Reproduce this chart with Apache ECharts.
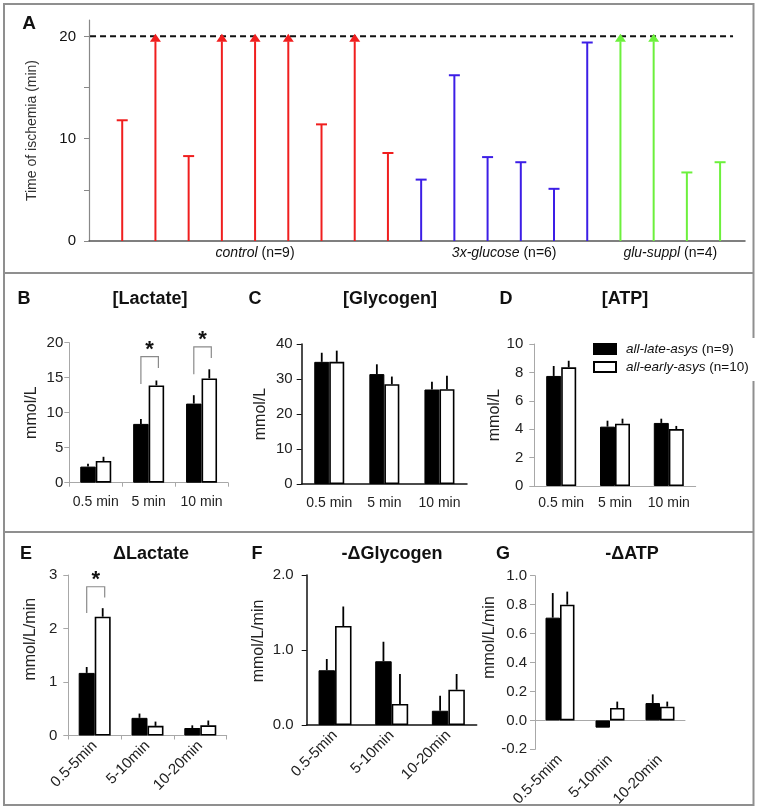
<!DOCTYPE html>
<html>
<head>
<meta charset="utf-8">
<script src="https://cdn.jsdelivr.net/npm/echarts@6.0.0/dist/echarts.min.js"></script>
<style>
html,body{margin:0;padding:0;background:#ffffff;}
#chart{width:759px;height:809px;}
</style>
</head>
<body>
<div id="chart"></div>
<script>
// ---------- Panel A: time of ischemia (min) for each heart ----------
const controlValues  = [11.8, 20, 8.3, 20, 20, 20, 11.4, 20, 8.6];
const controlReached = [0, 1, 0, 1, 1, 1, 0, 1, 0];
const glucoseValues  = [6.0, 16.2, 8.2, 7.7, 5.1, 19.4];
const glucoseReached = [0, 0, 0, 0, 0, 0];
const supplValues    = [20, 20, 6.7, 7.7];
const supplReached   = [1, 1, 0, 0];
const groupItalic    = ['control', '3x-glucose', 'glu-suppl'];
const groupCount     = [' (n=9)', ' (n=6)', ' (n=4)'];
const ischemiaLimit  = 20;
const ischemiaLabels = [0, 10, 20];

// ---------- Panels B-D (concentrations) ----------
const timeCats = ['0.5 min', '5 min', '10 min'];
const lactateLate      = [2.3, 8.4, 11.3];
const lactateLateSem   = [0.4, 0.7, 1.2];
const lactateEarly     = [3.1, 13.9, 14.9];
const lactateEarlySem  = [0.6, 0.7, 1.3];
const lactateSigCat    = [1, 2];
const lactateSigTop    = [18.0, 19.4];
const lactateSigLeft   = [14.1, 15.5];
const lactateSigRight  = [16.4, 17.8];

const glycogenLate     = [34.9, 31.4, 27.0];
const glycogenLateSem  = [2.6, 2.8, 2.2];
const glycogenEarly    = [34.9, 28.5, 27.1];
const glycogenEarlySem = [3.2, 2.2, 3.8];

const atpLate          = [7.75, 4.18, 4.44];
const atpLateSem       = [0.70, 0.42, 0.30];
const atpEarly         = [8.36, 4.39, 4.01];
const atpEarlySem      = [0.46, 0.35, 0.22];

// ---------- Panels E-G (rates) ----------
const rateCats  = ['0.5-5min', '5-10min', '10-20min'];
const rateCatsG = ['0.5-5mim', '5-10min', '10-20min'];
const dLactateLate      = [1.17, 0.33, 0.14];
const dLactateLateSem   = [0.11, 0.08, 0.05];
const dLactateEarly     = [2.22, 0.18, 0.19];
const dLactateEarlySem  = [0.16, 0.08, 0.09];
const dLactateSigCat    = [0];
const dLactateSigTop    = [2.78];
const dLactateSigLeft   = [2.29];
const dLactateSigRight  = [2.58];

const dGlycogenLate     = [0.73, 0.85, 0.19];
const dGlycogenLateSem  = [0.15, 0.26, 0.20];
const dGlycogenEarly    = [1.32, 0.28, 0.47];
const dGlycogenEarlySem = [0.26, 0.40, 0.21];

const dAtpLate          = [0.71, -0.05, 0.12];
const dAtpLateSem       = [0.17, 0, 0.06];
const dAtpEarly         = [0.80, 0.086, 0.095];
const dAtpEarlySem      = [0.09, 0.044, 0.035];

const nameLate  = 'all-late-asys (n=9)';
const nameEarly = 'all-early-asys (n=10)';

// ---------------------------------------------------------------
const FONT = '"Liberation Sans", Arial, Helvetica, sans-serif';
const chart = echarts.init(document.getElementById('chart'), null, {renderer: 'canvas', width: 759, height: 809});

const option = {
  animation: false,
  backgroundColor: '#ffffff',
  textStyle: {fontFamily: FONT},
  grid: [], xAxis: [], yAxis: [], series: [], graphic: []
};

// ----- Panel A -----
const stemColors = ['#f01e1e', '#3c1ee6', '#6cf03c'];
const stems = [];
let pos = 1;
const groupCenters = [];
[[controlValues, controlReached], [glucoseValues, glucoseReached], [supplValues, supplReached]].forEach((g, gi) => {
  const start = pos;
  g[0].forEach((v, i) => { stems.push([pos, v, g[1][i], gi]); pos++; });
  groupCenters.push([(start + pos - 1) / 2, 0, gi]);
});

option.grid.push({left: 89, top: 20, width: 656, height: 221, containLabel: false});
option.xAxis.push({
  gridIndex: 0, type: 'value', min: 0, max: 19.75,
  axisLine: {show: true, onZero: false, lineStyle: {color: '#555', width: 1.5}},
  axisTick: {show: false}, axisLabel: {show: false}, splitLine: {show: false}
});
option.yAxis.push({
  gridIndex: 0, type: 'value', min: 0, max: 21.6,
  axisLine: {show: true, lineStyle: {color: '#888', width: 1.2}},
  axisTick: {show: true, length: 5, customValues: [0, 5, 10, 15, 20], lineStyle: {color: '#888'}},
  axisLabel: {customValues: ischemiaLabels, fontSize: 15, color: '#111', margin: 13},
  splitLine: {show: false},
  name: 'Time of ischemia (min)', nameLocation: 'middle', nameRotate: 90, nameGap: 50,
  nameTextStyle: {fontSize: 14, color: '#333'}
});
option.series.push({
  type: 'line', xAxisIndex: 0, yAxisIndex: 0, clip: false, silent: true,
  data: [[-0.27, ischemiaLimit], [19.39, ischemiaLimit]],
  showSymbol: false, symbol: 'none',
  lineStyle: {color: '#111', width: 2, type: [6, 4]}, z: 2
});
option.series.push({
  type: 'custom', xAxisIndex: 0, yAxisIndex: 0, data: stems, z: 3,
  renderItem: function (params, api) {
    const x = api.value(0), v = api.value(1), reached = api.value(2), g = api.value(3);
    const b = api.coord([x, 0]), t = api.coord([x, v]);
    const col = stemColors[g];
    const ch = [];
    if (reached) {
      ch.push({type: 'line', shape: {x1: b[0], y1: b[1], x2: t[0], y2: t[1] + 5}, style: {stroke: col, lineWidth: 2}});
      ch.push({type: 'polygon', shape: {points: [[t[0], t[1] - 2.5], [t[0] - 5.5, t[1] + 5.5], [t[0] + 5.5, t[1] + 5.5]]}, style: {fill: col}});
    } else {
      ch.push({type: 'line', shape: {x1: b[0], y1: b[1], x2: t[0], y2: t[1]}, style: {stroke: col, lineWidth: 2}});
      ch.push({type: 'line', shape: {x1: t[0] - 5.5, y1: t[1], x2: t[0] + 5.5, y2: t[1]}, style: {stroke: col, lineWidth: 2}});
    }
    return {type: 'group', children: ch};
  }
});
option.series.push({
  type: 'custom', xAxisIndex: 0, yAxisIndex: 0, data: groupCenters, clip: false, silent: true,
  renderItem: function (params, api) {
    const p = api.coord([api.value(0), api.value(1)]);
    const gi = api.value(2);
    return {
      type: 'text', x: p[0], y: p[1] + 12,
      style: {
        text: '{i|' + groupItalic[gi] + '}{n|' + groupCount[gi] + '}',
        align: 'center', verticalAlign: 'middle', fill: '#111',
        rich: {
          i: {fontStyle: 'italic', fontSize: 14, fontFamily: FONT, fill: '#111'},
          n: {fontSize: 14, fontFamily: FONT, fill: '#111'}
        }
      }
    };
  }
});

// ----- Bar panels -----
function addBarPanel(P) {
  const gi = option.grid.length;
  option.grid.push({left: P.x0, top: P.yTop, width: P.x1 - P.x0, height: P.yBot - P.yTop, containLabel: false});
  option.xAxis.push({
    gridIndex: gi, type: 'category', data: P.cats,
    axisLine: {show: true, lineStyle: {color: P.axisColor, width: P.axisW}},
    axisTick: {show: P.xTicks, length: 4, lineStyle: {color: P.axisColor}},
    axisLabel: {fontSize: P.xFont, color: '#222', rotate: P.rotate, margin: P.xMargin, interval: 0},
    splitLine: {show: false}
  });
  option.yAxis.push({
    gridIndex: gi, type: 'value', min: P.min, max: P.max, interval: P.interval,
    axisLine: {show: true, lineStyle: {color: P.axisColor, width: P.axisW}},
    axisTick: {show: true, length: 5, lineStyle: {color: P.axisColor}},
    axisLabel: {fontSize: 15, color: '#222', margin: P.yMargin,
      formatter: function (v) { return P.dec ? v.toFixed(P.dec) : String(Math.round(v)); }},
    splitLine: {show: false},
    name: P.name, nameLocation: 'middle', nameRotate: 90, nameGap: P.nameGap,
    nameTextStyle: {fontSize: 16, color: '#222', padding: [0, 0, 0, P.namePad]}
  });
  option.series.push({
    type: 'bar', name: nameLate, xAxisIndex: gi, yAxisIndex: gi, data: P.late,
    barWidth: P.bw, barGap: '0%', itemStyle: {color: '#000', borderColor: '#000', borderWidth: 1}, z: 2
  });
  option.series.push({
    type: 'bar', name: nameEarly, xAxisIndex: gi, yAxisIndex: gi, data: P.early,
    barWidth: P.bw, barGap: '0%', itemStyle: {color: '#fff', borderColor: '#000', borderWidth: 1.6}, z: 2
  });
  const errData = [];
  P.late.forEach((v, i) => errData.push([i, v, P.lateSem[i], -1]));
  P.early.forEach((v, i) => errData.push([i, v, P.earlySem[i], 1]));
  option.series.push({
    type: 'custom', xAxisIndex: gi, yAxisIndex: gi, data: errData, z: 4, silent: true,
    renderItem: function (params, api) {
      const i = api.value(0), m = api.value(1), s = api.value(2), side = api.value(3);
      if (!s) return null;
      const c = api.coord([i, m]), t = api.coord([i, m + s]);
      const x = c[0] + side * P.bw / 2;
      return {type: 'line', shape: {x1: x, y1: c[1], x2: x, y2: t[1]}, style: {stroke: '#000', lineWidth: 1.8}};
    }
  });
  if (P.sigCat) {
    const sig = P.sigCat.map((c, k) => [c, P.sigTop[k], P.sigLeft[k], P.sigRight[k]]);
    option.series.push({
      type: 'custom', xAxisIndex: gi, yAxisIndex: gi, data: sig, z: 5, clip: false, silent: true,
      renderItem: function (params, api) {
        const i = api.value(0);
        const top = api.coord([i, api.value(1)]);
        const yl = api.coord([i, api.value(2)])[1];
        const yr = api.coord([i, api.value(3)])[1];
        const xl = top[0] - P.bw / 2, xr = top[0] + P.bw / 2 + 2;
        return {type: 'group', children: [
          {type: 'polyline', shape: {points: [[xl, yl], [xl, top[1]], [xr, top[1]], [xr, yr]]},
            style: {stroke: '#8a8a8a', lineWidth: 1.2, fill: null}},
          {type: 'text', x: (xl + xr) / 2, y: top[1] - 7,
            style: {text: '*', fontSize: 22, fontWeight: 'bold', fontFamily: FONT, fill: '#111', align: 'center', verticalAlign: 'middle'}}
        ]};
      }
    });
  }
}

const GRAY = '#a8a8a8', BLACK = '#111';
addBarPanel({x0: 69.3, x1: 228, yTop: 342.7, yBot: 482.7, min: 0, max: 20, interval: 5, dec: 0,
  cats: timeCats, late: lactateLate, lateSem: lactateLateSem, early: lactateEarly, earlySem: lactateEarlySem,
  bw: 15.5, axisColor: GRAY, axisW: 1, xTicks: true, rotate: 0, xFont: 14, xMargin: 12, yMargin: 6,
  name: 'mmol/L', nameGap: 30, namePad: 0,
  sigCat: lactateSigCat, sigTop: lactateSigTop, sigLeft: lactateSigLeft, sigRight: lactateSigRight});
addBarPanel({x0: 301.7, x1: 467, yTop: 344, yBot: 484, min: 0, max: 40, interval: 10, dec: 0,
  cats: timeCats, late: glycogenLate, lateSem: glycogenLateSem, early: glycogenEarly, earlySem: glycogenEarlySem,
  bw: 15, axisColor: BLACK, axisW: 1.5, xTicks: false, rotate: 0, xFont: 14, xMargin: 12, yMargin: 9,
  name: 'mmol/L', nameGap: 33, namePad: 0});
addBarPanel({x0: 534.3, x1: 695.7, yTop: 344, yBot: 486, min: 0, max: 10, interval: 2, dec: 0,
  cats: timeCats, late: atpLate, lateSem: atpLateSem, early: atpEarly, earlySem: atpEarlySem,
  bw: 15, axisColor: GRAY, axisW: 1, xTicks: false, rotate: 0, xFont: 14, xMargin: 10, yMargin: 11,
  name: 'mmol/L', nameGap: 24, namePad: 0});
addBarPanel({x0: 68.3, x1: 226.7, yTop: 575, yBot: 735.5, min: 0, max: 3, interval: 1, dec: 0,
  cats: rateCats, late: dLactateLate, lateSem: dLactateLateSem, early: dLactateEarly, earlySem: dLactateEarlySem,
  bw: 16, axisColor: GRAY, axisW: 1, xTicks: true, rotate: 45, xFont: 15, xMargin: 8, yMargin: 11,
  name: 'mmol/L/min', nameGap: 30, namePad: 32,
  sigCat: dLactateSigCat, sigTop: dLactateSigTop, sigLeft: dLactateSigLeft, sigRight: dLactateSigRight});
addBarPanel({x0: 306.7, x1: 476.7, yTop: 575, yBot: 725, min: 0, max: 2, interval: 1, dec: 1,
  cats: rateCats, late: dGlycogenLate, lateSem: dGlycogenLateSem, early: dGlycogenEarly, earlySem: dGlycogenEarlySem,
  bw: 16.5, axisColor: BLACK, axisW: 1.5, xTicks: false, rotate: 45, xFont: 15, xMargin: 8, yMargin: 13,
  name: 'mmol/L/min', nameGap: 40, namePad: 18});
addBarPanel({x0: 535, x1: 685, yTop: 575.7, yBot: 761.7, min: -0.2, max: 1.0, interval: 0.2, dec: 1,
  cats: rateCatsG, late: dAtpLate, lateSem: dAtpLateSem, early: dAtpEarly, earlySem: dAtpEarlySem,
  bw: 14.5, axisColor: GRAY, axisW: 1, xTicks: false, rotate: 45, xFont: 15, xMargin: 8, yMargin: 8,
  name: 'mmol/L/min', nameGap: 23, namePad: 50});

option.legend = {
  data: [nameLate, nameEarly], selectedMode: false,
  left: 593, top: 342, padding: 0, orient: 'vertical', itemWidth: 22, itemHeight: 10, itemGap: 4,
  icon: 'rect',
  textStyle: {fontSize: 13.5, color: '#111', padding: [0, 0, 0, 5],
    rich: {i: {fontStyle: 'italic', fontSize: 13.5, fontFamily: FONT, color: '#111'},
           n: {fontSize: 13.5, fontFamily: FONT, color: '#111'}}},
  formatter: function (name) {
    const k = name.indexOf(' ');
    return '{i|' + name.slice(0, k) + '}{n|' + name.slice(k) + '}';
  }
};

// ----- frame and titles -----
const frameStyle = {stroke: '#8f8f8f', lineWidth: 2};
const frameLines = [
  [3, 4, 754, 4], [4, 3, 4, 806], [3, 805, 754, 805],
  [753.5, 3, 753.5, 338], [753.5, 381, 753.5, 806],
  [3, 273, 754, 273], [3, 532, 754, 532]
];
frameLines.forEach(l => option.graphic.push({type: 'line', silent: true, shape: {x1: l[0], y1: l[1], x2: l[2], y2: l[3]}, style: frameStyle}));

const titles = [
  ['A', 29, 24, 19], ['B', 24, 299, 18], ['[Lactate]', 150, 299, 18], ['C', 255, 299, 18], ['[Glycogen]', 390, 299, 18],
  ['D', 506, 299, 18], ['[ATP]', 625, 299, 18],
  ['E', 26, 554, 18], ['\u0394Lactate', 151, 554, 18], ['F', 257, 554, 18], ['-\u0394Glycogen', 392, 554, 18],
  ['G', 503, 554, 18], ['-\u0394ATP', 632, 554, 18]
];
titles.forEach(t => option.graphic.push({
  type: 'text', silent: true, x: t[1], y: t[2],
  style: {text: t[0], fontSize: t[3], fontWeight: 'bold', fontFamily: FONT, fill: '#111', align: 'center', verticalAlign: 'middle'}
}));

chart.setOption(option);
</script>
</body>
</html>
